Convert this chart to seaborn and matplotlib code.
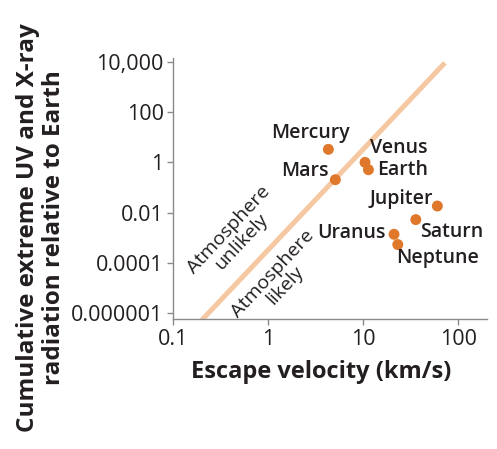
import numpy as np
import pandas as pd
import matplotlib
matplotlib.use("Agg")
import matplotlib.pyplot as plt
import seaborn as sns

# ---- data ----
planets = ["Mercury", "Venus", "Earth", "Mars", "Jupiter", "Saturn", "Uranus", "Neptune"]
escape_velocity = [4.28, 10.4, 11.3, 5.07, 60.0, 35.6, 21.0, 23.0]
xuv_flux = [3.3, 1.0, 0.51, 0.205, 0.0184, 0.0053, 0.00138, 0.00054]

shoreline_v = [0.2, 72.0]
shoreline_flux = [5.4e-7, 9.1e3]

x_ticks = [0.1, 1, 10, 100]
x_ticklabels = ["0.1", "1", "10", "100"]
y_ticks = [1e4, 1e2, 1, 1e-2, 1e-4, 1e-6]
y_ticklabels = ["10,000", "100", "1", "0.01", "0.0001", "0.000001"]

# label offsets (points) and alignment per planet
label_style = {
    "Mercury": ((-13, 12), "center"),
    "Venus": ((3.5, 10), "left"),
    "Earth": ((6.5, 0), "left"),
    "Mars": ((-5, 6), "right"),
    "Jupiter": ((-3, 5), "right"),
    "Saturn": ((3, -9), "left"),
    "Uranus": ((-6, 1), "right"),
    "Neptune": ((-1.5, -10), "left"),
}

sns.set_style("ticks")
plt.rcParams["font.family"] = ["Open Sans", "DejaVu Sans"]

TEXT = "#231f20"
ORANGE = "#e0782b"
PEACH = "#f6c8a2"
AXIS = "#8a8a8a"

fig = plt.figure(figsize=(4.97, 4.49), dpi=100)
ax = fig.add_axes([0.3487, 0.2889, 0.6313, 0.5813])

df = pd.DataFrame({"planet": planets, "v": escape_velocity, "f": xuv_flux})
line_df = pd.DataFrame({"v": shoreline_v, "f": shoreline_flux})

sns.lineplot(data=line_df, x="v", y="f", ax=ax, color=PEACH, linewidth=3.6,
             solid_capstyle="butt", zorder=1)
sns.scatterplot(data=df, x="v", y="f", ax=ax, color=ORANGE, s=62,
                edgecolor="none", zorder=3)

ax.set_xscale("log")
ax.set_yscale("log")
ax.set_xlim(0.1, 200)
ax.set_ylim(10 ** -6.24, 10 ** 4.14)
ax.set_xticks(x_ticks)
ax.set_xticklabels(x_ticklabels)
ax.set_yticks(y_ticks)
ax.set_yticklabels(y_ticklabels)
ax.minorticks_off()

for side in ["top", "right"]:
    ax.spines[side].set_visible(False)
for side in ["left", "bottom"]:
    ax.spines[side].set_color(AXIS)
    ax.spines[side].set_linewidth(1.0)
ax.tick_params(axis="both", colors=AXIS, labelcolor=TEXT, labelsize=15.5,
               length=4, width=1.0, pad=3)

ax.set_xlabel("Escape velocity (km/s)", fontsize=17, fontweight="bold",
              color=TEXT)
ax.xaxis.set_label_coords(0.472, -0.155)
ax.set_ylabel("Cumulative extreme UV and X-ray\nradiation relative to Earth",
              fontsize=17.5, fontweight="bold", color=TEXT, linespacing=1.1)
ax.yaxis.set_label_coords(-0.342, 0.35)

for name, v, f in zip(planets, escape_velocity, xuv_flux):
    (dx, dy), ha = label_style[name]
    ax.annotate(name, xy=(v, f), xytext=(dx, dy), textcoords="offset points",
                ha=ha, va="center", fontsize=14, fontweight="semibold",
                color=TEXT)

ax.text(0.447, 1.23e-3, "Atmosphere\nunlikely", rotation=47,
        rotation_mode="anchor", ha="center", va="center", fontsize=14,
        color=TEXT, linespacing=1.0)
ax.text(1.30, 2.2e-5, "Atmosphere\nlikely", rotation=47,
        rotation_mode="anchor", ha="center", va="center", fontsize=14,
        color=TEXT, linespacing=1.0)

fig.savefig("out.png", dpi=100)
